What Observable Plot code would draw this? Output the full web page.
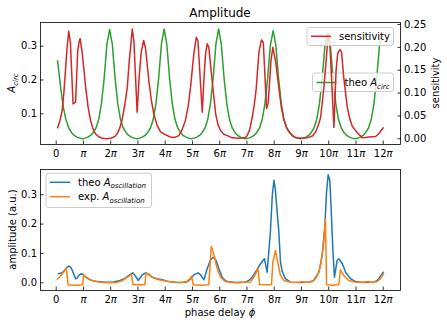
<!DOCTYPE html>
<html><head><meta charset="utf-8">
<script src="https://cdn.jsdelivr.net/npm/d3@7"></script>
<script src="https://cdn.jsdelivr.net/npm/@observablehq/plot@0.6"></script>
<style>
body{margin:0;background:#fff;}
#fig{position:relative;width:447px;height:326px;font-family:"DejaVu Sans",sans-serif;background:#fff;}
#fig svg{position:absolute;left:0;overflow:visible;}
</style></head><body><div id="fig"></div>
<script>
// ---- data (phase in units of pi) ----
const xTickValues = [0,1,2,3,4,5,6,7,8,9,10,11,12];
const xTickLabels = ["0","π","2π","3π","4π","5π","6π","7π","8π","9π","10π","11π","12π"];
const circTicks = [0.1,0.2,0.3];
const sensTicks = [0,0.05,0.1,0.15,0.2,0.25];
const oscTicks = [0,0.1,0.2,0.3];

const circPhi = [0.05,0.16,0.26,0.36,0.46,0.56,0.66,0.76,0.86,0.96,
1.06,1.16,1.26,1.36,1.46,1.56,1.66,1.76,1.86,1.96,2.06,2.16,2.26,2.36,2.46,2.56,2.66,2.76,2.86,2.96,
3.06,3.16,3.26,3.36,3.46,3.56,3.66,3.76,3.86,3.96,4.06,4.16,4.26,4.36,4.46,4.56,4.66,4.76,4.86,4.96,
5.06,5.16,5.26,5.36,5.46,5.56,5.66,5.76,5.86,5.96,6.06,6.16,6.26,6.36,6.46,6.56,6.66,6.76,6.86,6.96,
7.06,7.16,7.26,7.36,7.46,7.56,7.66,7.76,7.86,7.96,8.06,8.16,8.26,8.36,8.46,8.56,8.66,8.76,8.86,8.96,
9.06,9.16,9.26,9.36,9.46,9.56,9.66,9.76,9.86,9.96,10.06,10.16,10.26,10.36,10.46,10.56,10.66,10.76,10.86,10.96,
11.06,11.16,11.26,11.36,11.46,11.56,11.66,11.76,11.86,11.96];
const circA = [0.257,0.18,0.12,0.082,0.058,0.045,0.036,0.031,0.028,0.026,
0.028,0.031,0.036,0.045,0.058,0.083,0.13,0.205,0.305,0.349,0.305,0.205,0.13,0.083,0.058,0.045,0.036,0.031,0.028,0.026,
0.028,0.031,0.036,0.045,0.058,0.083,0.13,0.205,0.305,0.351,0.305,0.205,0.13,0.083,0.058,0.045,0.036,0.031,0.028,0.026,
0.028,0.031,0.036,0.045,0.058,0.083,0.13,0.205,0.305,0.351,0.305,0.205,0.13,0.083,0.058,0.045,0.036,0.031,0.028,0.026,
0.028,0.031,0.036,0.045,0.058,0.083,0.13,0.205,0.303,0.346,0.303,0.205,0.13,0.083,0.058,0.045,0.036,0.031,0.028,0.026,
0.028,0.031,0.036,0.045,0.058,0.083,0.13,0.205,0.3,0.338,0.3,0.205,0.13,0.083,0.058,0.045,0.036,0.031,0.028,0.026,
0.028,0.031,0.036,0.045,0.058,0.083,0.13,0.205,0.3,0.336];

const sensPhi = [0.05,0.14,0.22,0.28,0.34,0.40,0.46,0.52,0.62,0.66,0.71,0.79,0.85,0.88,0.95,1.02,1.08,1.17,1.26,1.35,1.44,1.55,1.69,1.85,2.0,2.15,2.25,2.34,2.42,2.52,2.61,2.68,2.73,2.79,2.85,2.97,3.05,3.12,3.21,3.28,3.40,3.49,3.58,3.70,3.83,4.0,4.19,4.35,4.5,4.62,4.74,4.84,4.93,5.05,5.14,5.2,5.36,5.42,5.48,5.54,5.6,5.72,5.85,5.94,6.03,6.15,6.28,6.46,6.7,6.95,7.01,7.1,7.19,7.27,7.34,7.44,7.53,7.6,7.72,7.78,7.88,7.95,8.05,8.17,8.26,8.35,8.45,8.54,8.66,8.8,9.0,9.2,9.4,9.52,9.62,9.7,9.82,9.92,9.98,10.04,10.19,10.27,10.33,10.41,10.47,10.55,10.68,10.78,10.86,11.05,11.23,11.47,11.72,11.85,12.0];
const sensVal = [0.024,0.04,0.062,0.1,0.149,0.2,0.235,0.212,0.076,0.078,0.08,0.193,0.215,0.219,0.19,0.15,0.113,0.07,0.04,0.022,0.011,0.005,0.001,0.0,0.001,0.005,0.012,0.025,0.042,0.075,0.113,0.17,0.2,0.24,0.215,0.058,0.14,0.19,0.215,0.197,0.127,0.085,0.055,0.03,0.015,0.009,0.004,0.003,0.007,0.02,0.04,0.07,0.113,0.186,0.222,0.215,0.058,0.13,0.186,0.208,0.2,0.128,0.055,0.03,0.018,0.01,0.007,0.002,0.001,0.003,0.007,0.02,0.046,0.075,0.11,0.19,0.216,0.21,0.066,0.078,0.17,0.2,0.17,0.112,0.07,0.042,0.025,0.016,0.007,0.002,0.001,0.002,0.006,0.015,0.03,0.046,0.11,0.182,0.23,0.212,0.025,0.15,0.187,0.195,0.19,0.135,0.07,0.042,0.028,0.013,0.002,0.004,0.005,0.012,0.024];

const oscPhi = [0.08,0.2,0.3,0.4,0.46,0.53,0.59,0.71,0.77,0.83,0.92,0.98,1.08,1.2,1.32,1.5,1.8,2.1,2.35,2.54,2.68,2.81,2.9,3.01,3.09,3.16,3.28,3.4,3.52,3.7,3.89,4.13,4.4,4.74,4.85,4.93,5.05,5.2,5.3,5.42,5.54,5.66,5.76,5.87,5.97,6.09,6.2,6.28,6.6,6.95,7.07,7.2,7.31,7.5,7.64,7.74,7.86,7.93,7.99,8.04,8.1,8.17,8.23,8.29,8.41,8.6,9.0,9.3,9.45,9.64,9.76,9.86,9.92,9.98,10.04,10.09,10.15,10.21,10.31,10.37,10.5,10.62,10.8,10.98,11.3,11.6,11.75,11.84,12.0];
const theoOsc = [0.031,0.033,0.042,0.053,0.057,0.053,0.042,0.014,0.016,0.025,0.031,0.029,0.019,0.012,0.008,0.004,0.002,0.003,0.008,0.016,0.026,0.034,0.024,0.008,0.018,0.027,0.034,0.028,0.019,0.014,0.01,0.004,0.001,0.002,0.006,0.013,0.027,0.034,0.027,0.01,0.048,0.078,0.087,0.076,0.048,0.019,0.008,0.004,0.001,0.003,0.008,0.02,0.036,0.065,0.082,0.036,0.173,0.298,0.349,0.32,0.25,0.173,0.07,0.04,0.014,0.002,0.001,0.003,0.008,0.036,0.093,0.195,0.309,0.368,0.349,0.252,0.116,0.019,0.076,0.082,0.065,0.036,0.014,0.004,0.001,0.002,0.006,0.014,0.036];

const expPhi = [0.04,0.15,0.26,0.37,0.44,0.6,0.8,0.97,1.0,1.1,1.2,1.32,1.44,1.7,2.0,2.2,2.4,2.54,2.66,2.76,2.82,3.0,3.25,3.3,3.4,3.52,3.7,3.89,4.13,4.4,4.6,4.81,4.9,4.97,5.03,5.3,5.6,5.69,5.78,5.85,5.91,6.03,6.21,6.5,6.8,7.13,7.25,7.33,7.4,7.47,7.7,7.9,7.95,8.05,8.13,8.23,8.35,8.6,8.9,9.0,9.2,9.4,9.52,9.62,9.7,9.82,9.88,9.92,10.1,10.37,10.43,10.55,10.74,10.95,11.2,11.45,11.55,11.77,11.9,12.02];
const expOsc = [0.012,0.022,0.035,0.05,-0.007,-0.008,-0.008,-0.007,0.025,0.019,0.013,0.008,0.005,0.001,0.0,0.001,0.006,0.014,0.022,0.029,-0.006,-0.007,-0.007,0.034,0.029,0.02,0.012,0.008,0.004,0.002,0.001,0.005,0.014,0.022,-0.007,-0.008,-0.007,0.124,0.099,0.07,0.048,0.019,0.004,0.0,0.001,0.003,0.019,0.033,0.05,-0.006,-0.007,-0.006,0.07,0.11,0.07,0.025,0.008,0.002,0.001,0.004,0.001,0.004,0.014,0.032,0.059,0.138,0.218,-0.006,-0.008,-0.007,0.044,0.025,0.008,0.003,0.001,0.004,0.002,0.004,0.014,0.032];

// ---- helpers ----
const rows = (xs, ys) => xs.slice(0, Math.min(xs.length, ys.length)).map((x, i) => ({phi: x, v: ys[i]}));
const GREEN = "#2ca02c", RED = "#d62728", BLUE = "#1f77b4", ORANGE = "#ff7f0e";
const W = 447;
const xDomain = [-0.576, 12.634];
const FONT = "DejaVu Sans, sans-serif";
const NS = "http://www.w3.org/2000/svg";
const baseStyle = {fontFamily: FONT, fontSize: "10px", color: "#000", background: "transparent"};

function richText(sel, parts, size) {
  parts.forEach(p => {
    const t = sel.append("tspan").text(p.t);
    if (p.i) t.attr("font-style", "italic");
    if (p.sub) t.attr("font-size", size * 0.7).attr("dy", size * 0.25);
  });
}
function addText(svg, {x, y, rotate = 0, anchor = "middle", size = 10, parts}) {
  const t = d3.select(svg).append("text")
    .attr("transform", `translate(${x},${y}) rotate(${rotate})`)
    .attr("text-anchor", anchor).attr("font-size", size).attr("font-family", FONT).attr("fill", "#000");
  richText(t, parts, size);
  return t;
}
function legend(svg, {x, y, w, h, items}) {
  const g = d3.select(svg).append("g");
  g.append("rect").attr("x", x).attr("y", y).attr("width", w).attr("height", h).attr("rx", 2.5)
    .attr("fill", "white").attr("fill-opacity", 0.8).attr("stroke", "#cccccc").attr("stroke-width", 1);
  items.forEach(it => {
    g.append("line").attr("x1", x + 4).attr("x2", x + 24).attr("y1", it.cy).attr("y2", it.cy)
      .attr("stroke", it.color).attr("stroke-width", 1.5);
    const t = g.append("text").attr("x", x + 32).attr("y", it.cy + 3.6).attr("text-anchor", "start")
      .attr("font-size", 10).attr("font-family", FONT).attr("fill", "#000");
    richText(t, it.parts, 10);
  });
}
function italicPi(svg) {
  svg.querySelectorAll('g[aria-label="x-axis tick label"] text').forEach(t => {
    const s = t.textContent, k = s.indexOf("π");
    if (k < 0) return;
    t.textContent = "";
    if (k > 0) { const a = document.createElementNS(NS, "tspan"); a.textContent = s.slice(0, k); t.appendChild(a); }
    const b = document.createElementNS(NS, "tspan"); b.setAttribute("font-style", "italic"); b.textContent = "π"; t.appendChild(b);
  });
}
const xFmt = d => xTickLabels[xTickValues.indexOf(d)];

// ---- top panel: A_circ ----
const topPlot = Plot.plot({
  width: W, height: 160, marginLeft: 40, marginRight: 47, marginTop: 22, marginBottom: 16,
  style: baseStyle,
  x: {domain: xDomain, axis: null},
  y: {domain: [0.0092, 0.370], axis: null},
  marks: [
    Plot.line(rows(circPhi, circA), {x: "phi", y: "v", stroke: GREEN, strokeWidth: 1.5}),
    Plot.axisX(xTickValues, {tickSize: -3.5, tickPadding: 8.9, strokeWidth: 0.8, tickFormat: xFmt, label: null}),
    Plot.axisY(circTicks, {anchor: "left", tickSize: -3.5, tickPadding: 7, strokeWidth: 0.8, tickFormat: d3.format(".1f"), label: null}),
    Plot.frame({stroke: "#000", strokeWidth: 0.8})
  ]
});
topPlot.style.top = "0px";
italicPi(topPlot);
addText(topPlot, {x: 220, y: 16.7, size: 12, parts: [{t: "Amplitude"}]});
addText(topPlot, {x: 15, y: 83, rotate: -90, parts: [{t: "A", i: true}, {t: "circ", i: true, sub: true}]});
legend(topPlot, {x: 312.5, y: 73, w: 81, h: 18.5, items: [
  {cy: 82.5, color: GREEN, parts: [{t: "theo "}, {t: "A", i: true}, {t: "circ", i: true, sub: true}]}
]});

// ---- top overlay: sensitivity (twin y axis) ----
const sensPlot = Plot.plot({
  width: W, height: 160, marginLeft: 40, marginRight: 47, marginTop: 22, marginBottom: 16,
  style: baseStyle,
  x: {domain: xDomain, axis: null},
  y: {domain: [-0.0125, 0.2544], axis: null},
  marks: [
    Plot.line(rows(sensPhi, sensVal), {x: "phi", y: "v", stroke: RED, strokeWidth: 1.5}),
    Plot.axisY(sensTicks, {anchor: "right", tickSize: -3.5, tickPadding: 7, strokeWidth: 0.8, tickFormat: d3.format(".2f"), label: null})
  ]
});
sensPlot.style.top = "0px";
addText(sensPlot, {x: 439, y: 83, rotate: -90, parts: [{t: "sensitivity"}]});
legend(sensPlot, {x: 307, y: 27.5, w: 86.5, h: 18, items: [
  {cy: 36.3, color: RED, parts: [{t: "sensitivity"}]}
]});

// ---- bottom panel: oscillation amplitude ----
const botPlot = Plot.plot({
  width: W, height: 166, marginLeft: 40, marginRight: 47, marginTop: 9, marginBottom: 36,
  style: baseStyle,
  x: {domain: xDomain, axis: null},
  y: {domain: [-0.0263, 0.386], axis: null},
  marks: [
    Plot.line(rows(oscPhi, theoOsc), {x: "phi", y: "v", stroke: BLUE, strokeWidth: 1.5}),
    Plot.line(rows(expPhi, expOsc), {x: "phi", y: "v", stroke: ORANGE, strokeWidth: 1.5}),
    Plot.axisX(xTickValues, {tickSize: -3.5, tickPadding: 8.5, strokeWidth: 0.8, tickFormat: xFmt, label: null}),
    Plot.axisY(oscTicks, {anchor: "left", tickSize: -3.5, tickPadding: 7, strokeWidth: 0.8, tickFormat: d3.format(".1f"), label: null}),
    Plot.frame({stroke: "#000", strokeWidth: 0.8})
  ]
});
botPlot.style.top = "160px";
italicPi(botPlot);
addText(botPlot, {x: 15.5, y: 69.5, rotate: -90, parts: [{t: "amplitude (a.u.)"}]});
addText(botPlot, {x: 220, y: 155.5, parts: [{t: "phase delay "}, {t: "ϕ", i: true}]});
legend(botPlot, {x: 46, y: 13.3, w: 105.5, h: 34.2, items: [
  {cy: 22.3, color: BLUE, parts: [{t: "theo "}, {t: "A", i: true}, {t: "oscillation", i: true, sub: true}]},
  {cy: 36.7, color: ORANGE, parts: [{t: "exp. "}, {t: "A", i: true}, {t: "oscillation", i: true, sub: true}]}
]});

const fig = document.getElementById("fig");
fig.append(topPlot, sensPlot, botPlot);
</script></body></html>
